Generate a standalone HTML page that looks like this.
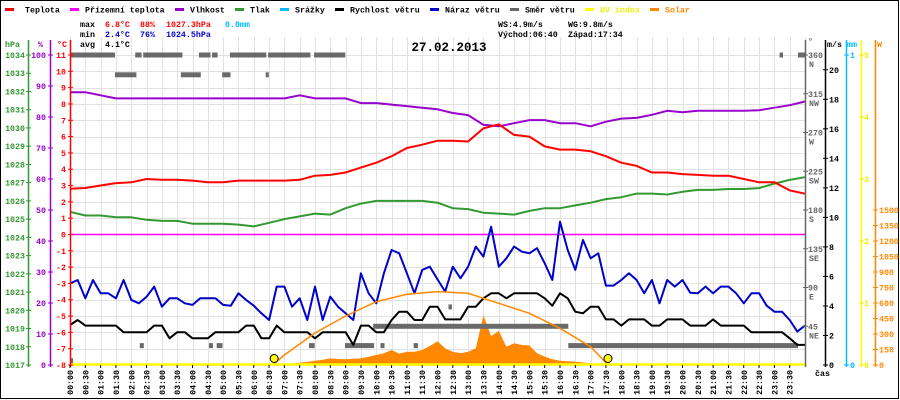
<!DOCTYPE html>
<html><head><meta charset="utf-8"><style>
html,body{margin:0;padding:0;background:#fff;}
svg{display:block;font-family:"Liberation Mono",monospace;}
</style></head><body>
<svg id="chart" width="900" height="400" viewBox="0 0 900 400" xmlns="http://www.w3.org/2000/svg">
<rect x="0.5" y="0.5" width="898" height="398" fill="#fff" stroke="#000"/>
<g id="grid"></g>
<g id="series"></g>
<g id="axes"></g>
<g font-size="8.3" font-weight="bold">
<g><rect x="5" y="8" width="9" height="3" fill="#f00"/><text x="25" y="12.5">Teplota</text></g>
<g><rect x="70" y="8" width="9" height="3" fill="#f0f"/><text x="85" y="12.5">Přízemní teplota</text></g>
<g><rect x="175" y="8" width="9" height="3" fill="#90c"/><text x="190" y="12.5">Vlhkost</text></g>
<g><rect x="235" y="8" width="9" height="3" fill="#393"/><text x="250" y="12.5">Tlak</text></g>
<g><rect x="280" y="8" width="9" height="3" fill="#0bf"/><text x="295" y="12.5">Srážky</text></g>
<g><rect x="335" y="8" width="9" height="3" fill="#000"/><text x="350" y="12.5">Rychlost větru</text></g>
<g><rect x="430" y="8" width="9" height="3" fill="#00c"/><text x="445" y="12.5">Náraz větru</text></g>
<g><rect x="510" y="8" width="9" height="3" fill="#666"/><text x="525" y="12.5">Směr větru</text></g>
<g><rect x="585" y="8" width="9" height="3" fill="#ff0"/><text x="600" y="12.5" fill="#ee0">UV index</text></g>
<g><rect x="650" y="8" width="9" height="3" fill="#f80"/><text x="665" y="12.5" fill="#f80">Solar</text></g>
</g>
<g font-size="8.3" font-weight="bold">
<text x="80" y="27">max</text><text x="105" y="27" fill="#f00">6.8°C</text><text x="140" y="27" fill="#f00">88%</text><text x="166" y="27" fill="#f00">1027.3hPa</text><text x="225" y="27" fill="#0bf">0.0mm</text>
<text x="80" y="37">min</text><text x="105" y="37" fill="#00c">2.4°C</text><text x="140" y="37" fill="#00c">76%</text><text x="166" y="37" fill="#00c">1024.5hPa</text>
<text x="80" y="47">avg</text><text x="105" y="47">4.1°C</text>
<text x="498" y="27">WS:4.9m/s</text><text x="568" y="27">WG:9.8m/s</text>
<text x="498" y="37">Východ:06:40</text><text x="568" y="37">Západ:17:34</text>
</g>
<text x="449" y="51" text-anchor="middle" font-size="12.5" font-weight="bold">27.02.2013</text>
</svg>
<script>
// ---- data (half-hour resolution) ----
var temperature = [2.8,2.85,3.0,3.15,3.2,3.4,3.35,3.35,3.3,3.2,3.2,3.3,3.3,3.3,3.3,3.35,3.6,3.65,3.8,4.1,4.4,4.8,5.3,5.5,5.75,5.75,5.7,6.5,6.75,6.1,6.0,5.4,5.2,5.2,5.1,4.8,4.4,4.2,3.8,3.8,3.7,3.65,3.6,3.6,3.4,3.2,3.2,2.7,2.5];
var humidity = [88,88,87,86,86,86,86,86,86,86,86,86,86,86,86,87,86,86,86,84.5,84.5,84,83.5,83,82.5,81.3,80.6,77.5,77,78,79,79,78,78,77,78.5,79.5,79.7,80.7,82,81.5,82,82,82,82,82.2,83,83.8,85];
var pressure = [1025.4,1025.2,1025.2,1025.1,1025.1,1024.96,1024.9,1024.9,1024.75,1024.75,1024.75,1024.7,1024.6,1024.8,1025.0,1025.15,1025.3,1025.25,1025.6,1025.85,1026.0,1026.0,1026.0,1026.0,1025.9,1025.6,1025.55,1025.35,1025.3,1025.25,1025.45,1025.6,1025.6,1025.75,1025.9,1026.1,1026.2,1026.4,1026.4,1026.35,1026.5,1026.6,1026.6,1026.65,1026.65,1026.7,1026.95,1027.15,1027.3];
var groundTemp = [0,0];
// ---- data (15-minute resolution) ----
var gust = [5.53,5.76,4.52,5.76,4.86,4.86,4.52,5.76,4.41,4.18,4.63,5.31,3.95,4.52,4.52,4.18,4.07,4.52,4.52,4.52,4.07,4.02,4.86,4.41,4.02,3.5,3.05,5.31,5.31,3.95,4.52,3.05,5.31,3.05,4.63,3.95,3.5,3.05,6.21,4.86,4.18,6.21,7.79,7.57,6.21,4.86,6.44,6.66,5.8,4.97,6.66,5.87,6.66,8.02,7.34,9.37,6.66,7.23,8.02,7.68,7.57,7.91,6.89,5.76,9.71,7.79,6.44,8.47,7.23,7.57,5.38,5.38,5.76,6.21,5.76,4.86,5.76,4.18,5.76,5.31,5.76,4.9,4.86,5.31,4.86,5.31,5.31,4.86,4.18,4.86,4.86,4.02,3.61,3.61,3.05,2.26,2.67];
var wind = [2.71,3.05,2.67,2.67,2.67,2.67,2.67,2.22,2.22,2.22,2.22,2.67,2.67,1.81,2.22,2.22,1.81,1.81,1.81,2.22,2.22,2.22,2.22,2.67,2.67,1.81,1.81,2.67,2.22,2.22,2.22,2.22,1.81,2.22,2.22,2.22,2.22,1.36,2.67,2.67,2.22,2.22,3.05,3.61,3.61,3.05,3.05,3.95,3.95,3.09,3.09,3.09,3.95,3.95,4.52,4.86,4.86,4.52,4.86,4.86,4.86,4.86,4.52,4.02,4.86,4.52,3.61,3.5,3.95,3.95,3.09,3.09,2.67,3.09,3.09,3.09,2.67,2.67,3.09,3.09,3.09,2.67,2.67,2.67,3.09,2.67,2.67,2.67,2.67,2.22,2.22,2.22,2.22,2.22,1.81,1.36,1.36];
var solar = [0,0,0,0,0,0,0,0,0,0,0,0,0,0,0,0,0,0,0,0,0,0,0,0,0,0,0,0,10,15,22,30,42,50,64,58,55,60,64,80,97,113,145,110,129,129,145,184,230,161,129,113,129,161,480,280,330,177,210,194,190,113,81,55,42,36,32,24,16,8,0,0,0,0,0,0,0,0,0,0,0,0,0,0,0,0,0,0,0,0,0,0,0,0,0,0,0];
var uvIndex = [0,0];
// theoretical solar curve
var sunHours = [6.62,7,8,9,10,11,12,13,14,15,16,17,17.57];
var sunValues = [0,97,310,474,613,684,710,694,597,500,355,177,0];
var sunEvents = [6.667,17.567];
// wind direction segments: start hour, end hour, degrees
var dirStart = [0,2.13,2.39,4.21,4.64,5.22,6.47,7.97,1.47,3.62,4.97,6.39,0,2.28,4.54,4.79,7.8,8.98,10.14,11.22,9.9,12.36,16.27,23.17,23.77];
var dirEnd   = [1.47,2.34,3.67,4.59,4.82,6.41,7.85,8.99,2.17,4.27,5.24,6.49,0.1,2.41,4.67,4.98,7.99,9.93,10.27,11.36,16.27,12.47,23.77,23.28,24];
var dirDeg   = [360,360,360,360,360,360,360,360,337,337,337,337,5,22.5,22.5,22.5,22.5,22.5,22.5,22.5,45,67.5,22.5,360,360];
// tick labels
var hpaTicks = [1034,1033,1032,1031,1030,1029,1028,1027,1026,1025,1024,1023,1022,1021,1020,1019,1018,1017];
var pctTicks = [100,90,80,70,60,50,40,30,20,10,0];
var tempTicks = [11,10,9,8,7,6,5,4,3,2,1,0,-1,-2,-3,-4,-5,-6,-7,-8];
var dirTicks = [360,315,270,225,180,135,90,45];
var dirNames = ["N","NW","W","SW","S","SE","E","NE"];
var msTicks = [0,2,4,6,8,10,12,14,16,18,20];
var mmTicks = [0,1];
var uvTicks = [0,1,2,3,4,5];
var wTicks = [0,150,300,450,600,750,900,1050,1200,1350,1500];

var NS="http://www.w3.org/2000/svg";
var X0=70,X1=805,Y0=55,Y1=365;
function X(h){return X0+h*(X1-X0)/24;}
function YT(t){return Y0+(11-t)*(Y1-Y0)/19;}
function YP(p){return Y0+(1034-p)*(Y1-Y0)/17;}
function YH(h){return Y1-h*(Y1-Y0)/100;}
function YW(v){return Y1-v*(Y1-Y0)/21;}
function YD(d){return Y1-d*(Y1-Y0)/360;}
function YS(w){return Y1-w*(Y1-Y0)/3000;}
function YU(u){return Y1-u*(Y1-Y0)/5;}
function mk(tag,attrs,parent){var e=document.createElementNS(NS,tag);for(var k in attrs)e.setAttribute(k,attrs[k]);parent.appendChild(e);return e;}
var G=document.getElementById('grid'),S=document.getElementById('series'),A=document.getElementById('axes');

// grid
for(var i=0;i<=48;i++){var gx=Math.round(X(i/2))+0.5;var l=mk('line',{x1:gx,x2:gx,y1:37,y2:Y1,stroke:'#e2e2e2','stroke-width':1},G);

}
tempTicks.forEach(function(t){var gy=Math.round(YT(t))+0.5;var l=mk('line',{x1:X0,x2:X1,y1:gy,y2:gy,stroke:'#e2e2e2','stroke-width':1},G);

});

// solar fill
(function(){var d='M'+X(0)+','+YS(0);solar.forEach(function(v,i){d+=' L'+X(i/4).toFixed(1)+','+YS(v).toFixed(1);});d+=' L'+X(24)+','+YS(0)+' Z';
var p=mk('path',{d:d,fill:'#f80',stroke:'none'},S);

})();

function line(arr,step,yf,color,w,name){var pts=arr.map(function(v,i){return X(i*step).toFixed(1)+','+yf(v).toFixed(1);}).join(' ');
var p=mk('polyline',{points:pts,fill:'none',stroke:color,'stroke-width':w,'stroke-linejoin':'round'},S);

return p;}

// direction segments
dirDeg.forEach(function(d,i){var r=mk('rect',{x:X(dirStart[i]).toFixed(1),y:(YD(d)-2.5).toFixed(1),width:Math.max(3,X(dirEnd[i])-X(dirStart[i])).toFixed(1),height:5,fill:'#6a6a6a'},S);

});

line(groundTemp,24,YT,'#f0f',1.5,'ground-temperature-line');
line(pressure,0.5,YP,'#393',2,'pressure-line');
line(humidity,0.5,YH,'#90c',2,'humidity-line');
line(temperature,0.5,YT,'#f00',2,'temperature-line');
line(wind,0.25,YW,'#000',2,'wind-speed-line');
line(gust,0.25,YW,'#00c',2,'wind-gust-line');
// theoretical solar
(function(){var pts=sunHours.map(function(h,i){return X(h).toFixed(1)+','+YS(sunValues[i]).toFixed(1);}).join(' ');
var p=mk('polyline',{points:pts,fill:'none',stroke:'#f80','stroke-width':1.5},S);

})();
// uv line
(function(){var p=mk('line',{x1:X(0),x2:X(24),y1:YU(uvIndex[0])-0.5,y2:YU(uvIndex[1])-0.5,stroke:'#ff0','stroke-width':2.5},S);

})();
sunEvents.forEach(function(h){var c=mk('circle',{cx:X(h).toFixed(1),cy:358.5,r:4,fill:'#ff0',stroke:'#000','stroke-width':1},S);

});

// axes
function vaxis(x,y0,y1,color,name){var l=mk('line',{x1:x,x2:x,y1:y0,y2:y1,stroke:color,'stroke-width':1.5},A);

}
function tlabel(x,y,txt,color,anchor,name){var t=mk('text',{x:x,y:y,fill:color,'font-size':8.3,'font-weight':'bold','text-anchor':anchor},A);t.textContent=txt;

return t;}
function tick(x,y,color){mk('line',{x1:x-2.5,x2:x+2.5,y1:y,y2:y,stroke:color,'stroke-width':1},A);}
vaxis(28.5,40,367,'#393','pressure-axis');
vaxis(50.5,40,367,'#90c','humidity-axis');
vaxis(70.5,40,367,'#f00','temperature-axis');
vaxis(805.5,40,367,'#666','direction-axis');
vaxis(825.5,40,367,'#000','wind-speed-axis');
vaxis(846.5,40,367,'#0bf','precipitation-axis');
vaxis(861.5,40,367,'#ff0','uv-axis');
vaxis(875.5,40,367,'#f80','solar-axis');
hpaTicks.forEach(function(v){var y=YP(v);tick(28.5,y,'#393');tlabel(25,y+3,v,'#393','end','pressure-tick-label');});
pctTicks.forEach(function(v){var y=YH(v);tick(50.5,y,'#90c');tlabel(46,y+3,v,'#90c','end','humidity-tick-label');});
tempTicks.forEach(function(v){var y=YT(v);tick(70.5,y,'#f00');tlabel(66,y+3,v,'#f00','end','temperature-tick-label');});
dirTicks.forEach(function(v,i){var y=YD(v);tick(805.5,y,'#666');tlabel(808,y+3,v,'#666','start','direction-tick-label');tlabel(809,y+12,dirNames[i],'#666','start','direction-name-label');});
msTicks.forEach(function(v){var y=YW(v);tick(825.5,y,'#000');tlabel(829,y+3,v,'#000','start','wind-tick-label');});
mmTicks.forEach(function(v){var y=Y1-v*(Y1-Y0);tick(846.5,y,'#0bf');tlabel(850,y+3,v,'#0bf','start','precipitation-tick-label');});
uvTicks.forEach(function(v){var y=YU(v);tick(861.5,y,'#ee0');tlabel(864,y+3,v,'#ee0','start','uv-tick-label');});
wTicks.forEach(function(v){var y=YS(v);tick(875.5,y,'#f80');tlabel(879,y+3,v,'#f80','start','solar-tick-label');});
tlabel(5,47,'hPa','#393','start','pressure-axis-title');
tlabel(38,47,'%','#90c','start','humidity-axis-title');
tlabel(57,47,'°C','#f00','start','temperature-axis-title');
tlabel(808,44,'°','#666','start','direction-axis-title');
tlabel(827,47,'m/s','#000','start','wind-axis-title');
tlabel(847,47,'mm','#0bf','start','precipitation-axis-title');
tlabel(877,47,'W','#f80','start','solar-axis-title');
tlabel(815,376,'čas','#000','start','time-axis-title');
for(var i=0;i<48;i++){var h=i/2;var x=X(h);mk('line',{x1:x,x2:x,y1:Y1,y2:Y1+3,stroke:'#000','stroke-width':1},A);
var hh=Math.floor(h),mm=(i%2)?'30':'00';var lab=(hh<10?'0':'')+hh+':'+mm;
var t=mk('text',{x:0,y:0,'font-size':8.3,'font-weight':'bold','text-anchor':'end',transform:'translate('+(x+3).toFixed(1)+',370) rotate(-90)'},A);t.textContent=lab;

}
</script>
</body></html>
